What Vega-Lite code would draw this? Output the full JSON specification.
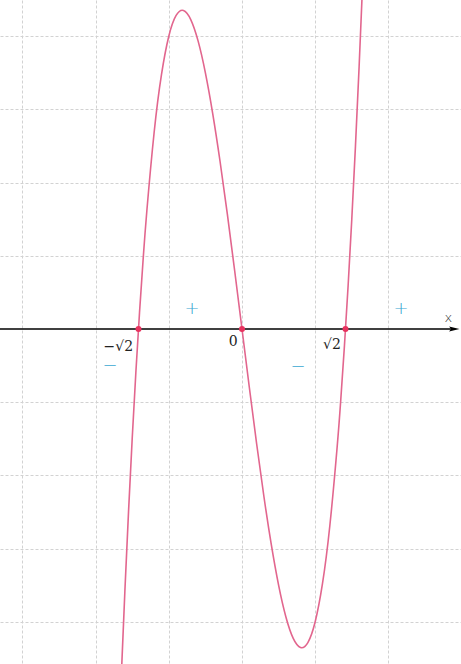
{
  "$schema": "https://vega.github.io/schema/vega-lite/v6.json",
  "width": 461,
  "height": 664,
  "autosize": {"type": "fit", "contains": "padding"},
  "padding": 0,
  "background": "white",
  "config": {"view": {"stroke": null}},
  "datasets": {
    "curve": [
      {"x": -1.7, "y": -6.052}, {"x": -1.65, "y": -4.769}, {"x": -1.6, "y": -3.584}, {"x": -1.55, "y": -2.495},
      {"x": -1.5, "y": -1.5}, {"x": -1.45, "y": -0.595}, {"x": -1.4, "y": 0.224}, {"x": -1.35, "y": 0.959},
      {"x": -1.3, "y": 1.612}, {"x": -1.2, "y": 2.688}, {"x": -1.1, "y": 3.476}, {"x": -1.0, "y": 4.0},
      {"x": -0.9, "y": 4.284}, {"x": -0.8, "y": 4.352}, {"x": -0.7, "y": 4.228}, {"x": -0.6, "y": 3.936},
      {"x": -0.5, "y": 3.5}, {"x": -0.4, "y": 2.944}, {"x": -0.3, "y": 2.292}, {"x": -0.2, "y": 1.568},
      {"x": -0.1, "y": 0.796}, {"x": 0.0, "y": 0.0}, {"x": 0.1, "y": -0.796}, {"x": 0.2, "y": -1.568},
      {"x": 0.3, "y": -2.292}, {"x": 0.4, "y": -2.944}, {"x": 0.5, "y": -3.5}, {"x": 0.6, "y": -3.936},
      {"x": 0.7, "y": -4.228}, {"x": 0.8, "y": -4.352}, {"x": 0.9, "y": -4.284}, {"x": 1.0, "y": -4.0},
      {"x": 1.1, "y": -3.476}, {"x": 1.2, "y": -2.688}, {"x": 1.3, "y": -1.612}, {"x": 1.35, "y": -0.959},
      {"x": 1.4, "y": -0.224}, {"x": 1.45, "y": 0.595}, {"x": 1.5, "y": 1.5}, {"x": 1.55, "y": 2.495},
      {"x": 1.6, "y": 3.584}, {"x": 1.65, "y": 4.769}, {"x": 1.7, "y": 6.052}
    ],
    "roots": [{"x": -1.414, "y": 0}, {"x": 0, "y": 0}, {"x": 1.414, "y": 0}],
    "axisline": [{"x": -3.4, "x2": 2.9, "y": 0}],
    "arrow": [{"x": 2.9, "y": 0}],
    "labels": [
      {"x": -1.69, "y": -0.25, "text": "−√2"},
      {"x": -0.12, "y": -0.18, "text": "0"},
      {"x": 1.23, "y": -0.22, "text": "√2"}
    ],
    "xlabel": [{"x": 2.82, "y": 0.15, "text": "x"}],
    "signs": [
      {"x": -0.683, "y": 0.27, "text": "+"},
      {"x": 2.172, "y": 0.28, "text": "+"},
      {"x": -1.803, "y": -0.51, "text": "−"},
      {"x": 0.765, "y": -0.52, "text": "−"}
    ]
  },
  "encoding": {
    "x": {
      "field": "x", "type": "quantitative",
      "scale": {"domain": [-3.306, 2.992], "nice": false, "zero": false},
      "axis": {"grid": true, "values": [-3, -2, -1, 0, 1, 2], "labels": false, "ticks": false, "domain": false, "title": null, "gridDash": [3, 2], "gridColor": "#d2d2d2", "gridWidth": 1}
    },
    "y": {
      "field": "y", "type": "quantitative",
      "scale": {"domain": [-4.577, 4.495], "nice": false, "zero": false},
      "axis": {"grid": true, "values": [-4, -3, -2, -1, 1, 2, 3, 4], "labels": false, "ticks": false, "domain": false, "title": null, "gridDash": [3, 2], "gridColor": "#d2d2d2", "gridWidth": 1}
    }
  },
  "layer": [
    {
      "data": {"name": "axisline"},
      "mark": {"type": "rule", "color": "#000000", "strokeWidth": 1.3, "clip": true},
      "encoding": {"x2": {"field": "x2"}}
    },
    {
      "data": {"name": "arrow"},
      "mark": {"type": "point", "shape": "M-1,-0.5L1,0L-1,0.5L-0.6,0Z", "filled": true, "color": "#000000", "size": 110, "opacity": 1}
    },
    {
      "data": {"name": "curve"},
      "mark": {"type": "line", "interpolate": "natural", "color": "#e2668e", "strokeWidth": 1.6, "clip": true}
    },
    {
      "data": {"name": "roots"},
      "mark": {"type": "point", "filled": true, "color": "#e8335f", "size": 36, "opacity": 1}
    },
    {
      "data": {"name": "labels"},
      "mark": {"type": "text", "font": "DejaVu Serif", "fontSize": 14, "color": "#222222"},
      "encoding": {"text": {"field": "text"}}
    },
    {
      "data": {"name": "xlabel"},
      "mark": {"type": "text", "font": "DejaVu Sans", "fontSize": 13, "fontWeight": 300, "color": "#222222"},
      "encoding": {"text": {"field": "text"}}
    },
    {
      "data": {"name": "signs"},
      "mark": {"type": "text", "font": "DejaVu Sans", "fontSize": 18, "fontWeight": 300, "color": "#3aa6d2"},
      "encoding": {"text": {"field": "text"}}
    }
  ]
}
